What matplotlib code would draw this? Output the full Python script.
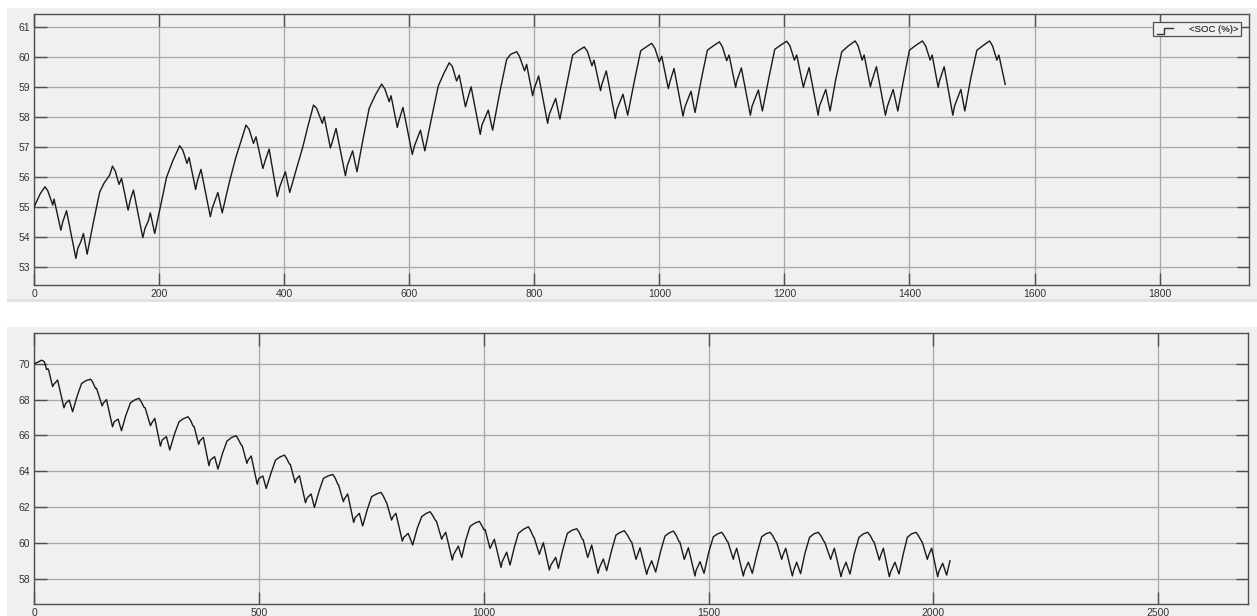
import matplotlib
matplotlib.use("Agg")
import matplotlib.pyplot as plt
from matplotlib.patches import Rectangle
from matplotlib.lines import Line2D

plt.rcParams['font.family'] = ['Liberation Sans', 'DejaVu Sans']

# SOC trace, upper scope (time, soc %)
top_t = [0, 10, 17.5, 22, 30, 32, 43, 46, 52, 67, 70, 75, 79, 85, 95, 105, 112, 121, 125.5, 130,
         136, 140, 150.5, 154, 159, 174, 177.5, 183, 186, 193, 203, 212, 222, 233, 238,
         244.7, 248, 258.5, 261, 267, 282, 285, 294, 301, 312, 323, 331, 339, 344,
         351, 355, 366, 370, 376, 389, 393, 402, 409, 420, 430, 438, 447, 452,
         461, 464, 474, 477, 483, 498, 501, 509.5, 516.5, 526, 536, 546, 556, 561,
         568, 571, 581, 583, 590, 605, 608.5, 618, 625, 636, 646.4, 655, 664, 669,
         675.8, 680, 690, 692.8, 699, 713.6, 716.3, 726.4, 733.4, 745, 755.8, 762, 771.8, 776,
         784.6, 787.8, 797.4, 800, 807, 821.4, 824, 834.2, 841, 851, 861.4, 870, 880, 885,
         892.3, 895.5, 906, 907.8, 915.2, 929.6, 932.3, 941.9, 949.4, 960, 970.2, 979, 987.8, 993,
         1000, 1003.8, 1014.4, 1017, 1023.5, 1037.9, 1041, 1050.7, 1057.1, 1067, 1076.8, 1086, 1096, 1101,
         1107.7, 1111.5, 1122.1, 1123.7, 1131.2, 1145.6, 1148.3, 1158.4, 1164.8, 1175, 1184.6, 1194, 1203.7, 1209,
         1216, 1219.7, 1230.4, 1233, 1239.5, 1254, 1256, 1266.2, 1273.1, 1282, 1291.8, 1302, 1313.1, 1318,
         1324.3, 1327.5, 1337.6, 1339.8, 1347.2, 1361.6, 1364.8, 1373.9, 1381.4, 1391, 1400, 1410, 1420.8, 1426,
         1433.1, 1436.3, 1445.9, 1448, 1455.5, 1469.4, 1472, 1482.2, 1488.5, 1498, 1507.8, 1518, 1528, 1533,
         1539.8, 1543, 1553.1]
top_soc = [55.00, 55.45, 55.68, 55.55, 55.07, 55.27, 54.23, 54.51, 54.88, 53.29, 53.62, 53.85, 54.12, 53.43, 54.5, 55.5, 55.8, 56.07, 56.37, 56.2,
           55.76, 55.96, 54.90, 55.24, 55.57, 53.98, 54.29, 54.55, 54.81, 54.12, 55.1, 56.0, 56.55, 57.05, 56.9,
           56.46, 56.66, 55.59, 55.85, 56.26, 54.68, 54.96, 55.49, 54.81, 55.8, 56.68, 57.2, 57.74, 57.6,
           57.13, 57.35, 56.29, 56.57, 56.94, 55.35, 55.68, 56.18, 55.49, 56.3, 57.02, 57.7, 58.41, 58.3,
           57.80, 58.02, 56.98, 57.18, 57.63, 56.05, 56.38, 56.88, 56.18, 57.25, 58.30, 58.75, 59.11, 58.95,
           58.52, 58.72, 57.66, 57.85, 58.33, 56.76, 57.05, 57.57, 56.88, 58.0, 59.04, 59.45, 59.82, 59.7,
           59.21, 59.41, 58.35, 58.57, 59.02, 57.43, 57.74, 58.24, 57.57, 58.85, 59.93, 60.1, 60.19, 60.05,
           59.55, 59.77, 58.72, 58.96, 59.38, 57.80, 58.10, 58.63, 57.94, 59.0, 60.08, 60.22, 60.35, 60.2,
           59.72, 59.91, 58.89, 59.08, 59.55, 57.96, 58.27, 58.77, 58.07, 59.2, 60.22, 60.35, 60.47, 60.3,
           59.85, 60.04, 58.96, 59.19, 59.63, 58.04, 58.35, 58.87, 58.16, 59.25, 60.24, 60.38, 60.52, 60.35,
           59.89, 60.08, 59.00, 59.19, 59.65, 58.07, 58.37, 58.91, 58.21, 59.3, 60.27, 60.41, 60.54, 60.38,
           59.91, 60.08, 59.00, 59.21, 59.66, 58.07, 58.37, 58.93, 58.21, 59.25, 60.19, 60.38, 60.55, 60.38,
           59.91, 60.08, 59.02, 59.21, 59.69, 58.07, 58.37, 58.93, 58.21, 59.3, 60.24, 60.4, 60.55, 60.38,
           59.91, 60.08, 59.00, 59.21, 59.69, 58.07, 58.37, 58.93, 58.21, 59.3, 60.24, 60.4, 60.55, 60.38,
           59.91, 60.08, 59.10]

# SOC trace, lower scope (time, soc %)
bot_t = [0, 8, 17, 23, 28, 31, 33, 41.4, 44, 52.5, 66.6, 70.3, 78.4, 85.8, 96, 105.8, 115, 125.7, 131,
         136.8, 139, 151.6, 154, 161.2, 174.6, 178.3, 187.1, 194.5, 204, 214.5, 224, 233.7, 239,
         244.8, 247, 258.9, 262, 268.5, 281, 284.8, 294.4, 301.8, 312, 322.5, 332, 342.5, 348,
         353.6, 356, 366.1, 369, 376.5, 389, 392, 401.6, 409, 419, 429, 439, 449.7, 455,
         460.8, 463, 473.4, 476, 483, 496.3, 500, 508.9, 516.3, 527, 537, 547, 557, 562,
         568, 570, 580.6, 583, 590.2, 603.6, 607, 616.1, 623.5, 634, 643.5, 654, 664.2, 670,
         675.3, 677, 687.9, 690, 697.5, 710.8, 714, 723.4, 730.8, 741, 750.7, 761, 771.4, 777,
         782.5, 784, 795.1, 798, 804.7, 819, 822, 832, 842, 852, 862, 871, 880.5, 886,
         893, 895, 906.5, 909, 915.4, 930.2, 933, 943.5, 951, 960, 969.5, 980, 990.2, 995,
         1000.6, 1003, 1013.9, 1017, 1023.6, 1038.4, 1041, 1051, 1058.4, 1068, 1077, 1088, 1099.2, 1104,
         1110.3, 1112, 1123.6, 1126, 1132.5, 1145.9, 1149, 1160, 1165.9, 1176, 1185.9, 1196, 1206.6, 1212,
         1219.2, 1221, 1231.1, 1234, 1240, 1254.1, 1257, 1265.9, 1273.3, 1284, 1294.1, 1303, 1312.6, 1319,
         1327.5, 1329, 1338.6, 1341, 1347.5, 1362.3, 1365, 1373.4, 1382.3, 1393, 1403, 1412, 1421.6, 1428,
         1434.2, 1436, 1446, 1449, 1455, 1469.8, 1472, 1480.9, 1489.8, 1500, 1510.5, 1520, 1529.1, 1535,
         1541.7, 1543, 1555, 1557, 1562.4, 1577.2, 1580, 1588.4, 1597.2, 1608, 1618, 1627, 1636.5, 1643,
         1649.1, 1651, 1662.5, 1665, 1671.4, 1686.2, 1689, 1695.8, 1704.5, 1714, 1724.5, 1734, 1744, 1750,
         1756.6, 1758, 1771.4, 1774, 1779.5, 1794.4, 1797, 1805.5, 1814.4, 1824, 1834.4, 1844, 1853.7, 1860,
         1866.3, 1868, 1879.6, 1882, 1888.5, 1901.8, 1905, 1914.4, 1923.3, 1933, 1941.9, 1951, 1961.1, 1967,
         1973.7, 1975, 1986.3, 1989, 1996, 2009.3, 2012, 2020.4, 2029.3, 2036.7]
bot_soc = [70.00, 70.08, 70.20, 70.11, 69.68, 69.72, 69.60, 68.72, 68.85, 69.09, 67.54, 67.79, 67.97, 67.32, 68.2, 68.90, 69.05, 69.14, 68.95,
           68.62, 68.63, 67.64, 67.8, 68.00, 66.48, 66.76, 66.91, 66.26, 67.1, 67.82, 67.98, 68.07, 67.85,
           67.56, 67.55, 66.54, 66.7, 66.95, 65.40, 65.74, 65.93, 65.18, 66.05, 66.76, 66.93, 67.04, 66.85,
           66.52, 66.5, 65.50, 65.7, 65.89, 64.31, 64.62, 64.81, 64.12, 64.98, 65.68, 65.88, 65.98, 65.75,
           65.46, 65.42, 64.44, 64.62, 64.85, 63.27, 63.60, 63.73, 63.04, 63.9, 64.62, 64.8, 64.90, 64.7,
           64.40, 64.38, 63.36, 63.55, 63.75, 62.24, 62.5, 62.73, 61.98, 62.9, 63.60, 63.74, 63.82, 63.6,
           63.28, 63.25, 62.30, 62.45, 62.73, 61.14, 61.4, 61.65, 60.94, 61.85, 62.58, 62.72, 62.82, 62.6,
           62.30, 62.25, 61.27, 61.45, 61.65, 60.10, 60.3, 60.53, 59.88, 60.8, 61.46, 61.63, 61.74, 61.55,
           61.24, 61.2, 60.20, 60.35, 60.59, 59.04, 59.35, 59.82, 59.19, 60.15, 60.92, 61.1, 61.20, 61.0,
           60.72, 60.75, 59.69, 59.85, 60.20, 58.63, 58.95, 59.48, 58.76, 59.75, 60.53, 60.75, 60.90, 60.7,
           60.34, 60.3, 59.36, 59.55, 60.01, 58.48, 58.75, 59.19, 58.58, 59.65, 60.53, 60.7, 60.79, 60.6,
           60.20, 60.18, 59.19, 59.4, 59.88, 58.30, 58.6, 59.10, 58.45, 59.55, 60.44, 60.58, 60.68, 60.45,
           60.07, 60.05, 59.08, 59.25, 59.73, 58.24, 58.5, 59.00, 58.37, 59.5, 60.38, 60.55, 60.66, 60.42,
           60.07, 60.05, 59.08, 59.3, 59.73, 58.15, 58.45, 58.95, 58.30, 59.45, 60.34, 60.5, 60.59, 60.38,
           60.07, 60.05, 59.08, 59.3, 59.70, 58.15, 58.45, 58.92, 58.30, 59.45, 60.34, 60.5, 60.59, 60.38,
           60.07, 60.05, 59.08, 59.3, 59.70, 58.15, 58.45, 58.92, 58.28, 59.4, 60.31, 60.5, 60.59, 60.38,
           60.07, 60.05, 59.08, 59.3, 59.70, 58.11, 58.4, 58.92, 58.26, 59.4, 60.31, 60.5, 60.59, 60.38,
           60.07, 60.05, 59.04, 59.25, 59.70, 58.11, 58.4, 58.92, 58.26, 59.4, 60.31, 60.5, 60.59, 60.38,
           60.07, 60.05, 59.08, 59.3, 59.70, 58.11, 58.4, 58.86, 58.20, 59.00]

top_xticks = [0, 200, 400, 600, 800, 1000, 1200, 1400, 1600, 1800]
top_yticks = [53, 54, 55, 56, 57, 58, 59, 60, 61]
bot_xticks = [0, 500, 1000, 1500, 2000, 2500]
bot_yticks = [58, 60, 62, 64, 66, 68, 70]
legend_label = "<SOC (%)>"

W, H = 1257, 616
bg = "#f0f0f0"
fig = plt.figure(figsize=(W / 100, H / 100), dpi=100, facecolor="white")

# grey scope panels behind each axes
for (y0, y1) in [(8, 302), (327, 616)]:
    fig.patches.append(Rectangle((7 / W, 1 - y1 / H), 1 - 7 / W, (y1 - y0) / H,
                                 transform=fig.transFigure, facecolor=bg, edgecolor="none", zorder=-5))
# faint lower rim of the upper panel
fig.patches.append(Rectangle((7 / W, 1 - 302 / H), 1 - 7 / W, 3 / H,
                             transform=fig.transFigure, facecolor="#e2e2e2", edgecolor="none", zorder=-4))


def scope(rect, t, soc, xlim, ylim, xticks, yticks):
    left, top, right, bottom = rect
    ax = fig.add_axes([left / W, 1 - bottom / H, (right - left) / W, (bottom - top) / H])
    ax.set_facecolor(bg)
    ax.plot(t, soc, color="#1a1a1a", lw=1.0, zorder=3)
    ax.set_xlim(*xlim)
    ax.set_ylim(*ylim)
    ax.set_xticks(xticks)
    ax.set_yticks(yticks)
    ax.grid(True, color="#a8a8a8", lw=0.9)
    ax.tick_params(direction="in", length=9, width=1, color="#505050",
                   top=True, right=True, labelsize=7.5, labelcolor="#333333", pad=3)
    for s in ax.spines.values():
        s.set_color("#505050")
        s.set_linewidth(1)

    # legend box, scope style
    def fx(px):
        return (px - left) / (right - left)

    def fy(py):
        return 1 - (py - top) / (bottom - top)

    ax.add_patch(Rectangle((fx(1153), fy(36)), fx(1241) - fx(1153), fy(22) - fy(36),
                           transform=ax.transAxes, facecolor=bg, edgecolor="#505050", lw=0.9, zorder=5))
    ax.add_line(Line2D([fx(1157), fx(1164), fx(1164), fx(1173)],
                       [fy(33.5), fy(33.5), fy(27.5), fy(27.5)],
                       transform=ax.transAxes, color="#333333", lw=1, zorder=6))
    ax.text(fx(1214), fy(29.5), legend_label, transform=ax.transAxes, ha="center", va="center",
            fontsize=6.8, color="#444444", zorder=6)
    return ax


ax1 = scope((34, 14, 1249, 285), top_t, top_soc, (0, 1943), (52.4, 61.45), top_xticks, top_yticks)
ax2 = scope((34, 333.3, 1248.3, 604.3), bot_t, bot_soc, (0, 2700), (56.57, 71.7), bot_xticks, bot_yticks)

fig.savefig("out.png", dpi=100, facecolor="white")
